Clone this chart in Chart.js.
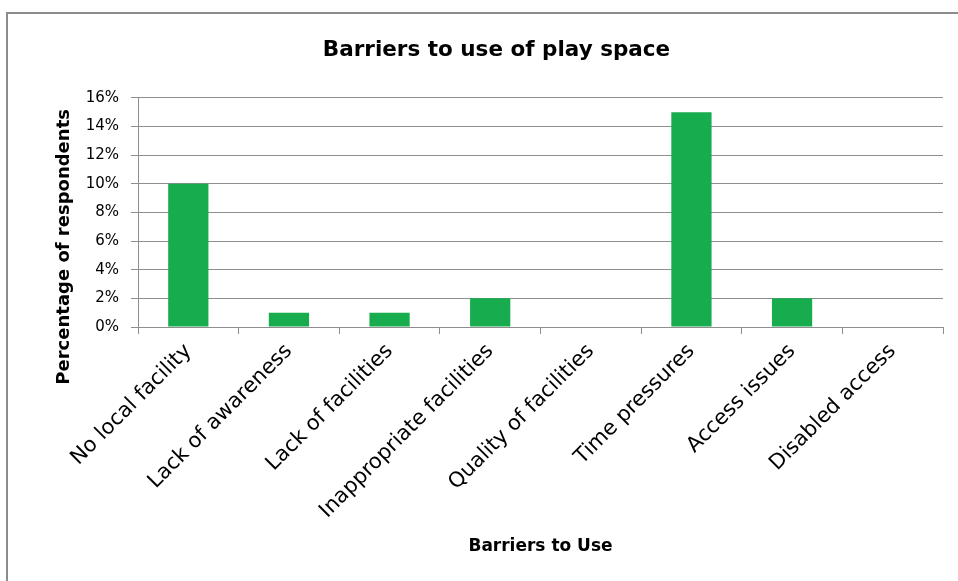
<!DOCTYPE html>
<html>
<head>
<meta charset="utf-8">
<script src="https://cdn.jsdelivr.net/npm/chart.js@4/dist/chart.umd.min.js"></script>
<style>
  body { margin: 0; background: #fff; }
  #frame { position: absolute; left: 6px; top: 12px; width: 970px; height: 590px; border: 2px solid #8c8c8c; box-sizing: border-box; }
  #wrap { position: absolute; left: 0; top: 0; width: 958px; height: 581px; }
</style>
</head>
<body>
<div id="frame"></div>
<div id="wrap"><canvas id="chart"></canvas></div>
<script>
'use strict';
// data
let barrierNames = ['No local facility', 'Lack of awareness', 'Lack of facilities', 'Inappropriate facilities',
  'Quality of facilities', 'Time pressures', 'Access issues', 'Disabled access'];
let percentValues = [10, 1, 1, 2, 0, 15, 2, 0];
let yTicks = [0, 2, 4, 6, 8, 10, 12, 14, 16];

let fontName = '"DejaVu Sans", sans-serif';
let gridGray = '#8e8e8e';
// trailing spaces push the rotated y title down a little, like the original
let yTitle = 'Percentage of respondents' + '\u00a0'.repeat(11);

let context = document.getElementById('chart').getContext('2d');
let chart = new Chart(context, {
  type: 'bar',
  data: {
    labels: barrierNames,
    datasets: [{
      label: 'Barriers',
      data: percentValues,
      backgroundColor: '#17ad4e',
      barPercentage: 0.4,
      categoryPercentage: 1
    }]
  },
  options: {
    responsive: true,
    maintainAspectRatio: false,
    animation: false,
    layout: { padding: { left: 50, right: 15, top: 0, bottom: 20 } },
    plugins: {
      legend: { display: false },
      tooltip: { enabled: false },
      title: {
        display: true,
        text: 'Barriers to use of play space',
        color: '#000',
        font: { family: fontName, size: 21.5, weight: 'bold' },
        padding: { top: 38, bottom: 34 }
      }
    },
    scales: {
      x: {
        grid: { drawOnChartArea: false, color: gridGray, tickLength: 7, offset: true },
        border: { color: gridGray, width: 1 },
        ticks: { color: '#000', font: { family: fontName, size: 21 }, maxRotation: 45, minRotation: 45, padding: 5 },
        title: { display: true, text: 'Barriers to Use', color: '#000', font: { family: fontName, size: 17, weight: 'bold' }, padding: { top: 10 } },
        afterFit: function (scale) { scale.height = 234; }
      },
      y: {
        min: 0,
        max: 16,
        afterBuildTicks: function (scale) { scale.ticks = yTicks.map(v => ({ value: v })); },
        grid: { color: gridGray, tickLength: 7 },
        border: { color: gridGray, width: 1 },
        ticks: { color: '#000', font: { family: fontName, size: 15 }, padding: 12, callback: v => v + '%' },
        title: { display: true, text: yTitle, color: '#000', font: { family: fontName, size: 18, weight: 'bold' }, padding: { bottom: 4 } },
        afterFit: function (scale) { scale.width = 88; }
      }
    }
  }
});
</script>
</body>
</html>
